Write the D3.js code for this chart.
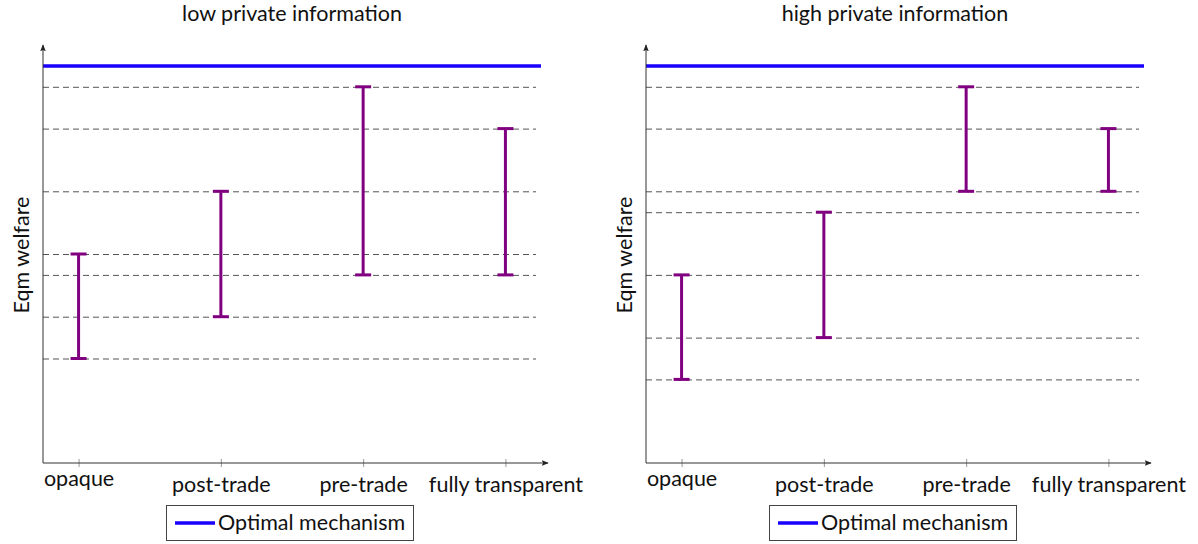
<!DOCTYPE html>
<html>
<head>
<meta charset="utf-8">
<script src="https://cdn.jsdelivr.net/npm/d3@7"></script>
<style>
  body { margin: 0; background: #fff; }
  text { font-family: Lato, "Open Sans", sans-serif; fill: #111; }
</style>
</head>
<body>
<svg width="1198" height="544"></svg>
<script>
var categories = ["opaque", "post-trade", "pre-trade", "fully transparent"];
var titles = ["low private information", "high private information"];
// error bar ranges (low, high) per category
var lowInfoLo = [25, 35, 45, 45];
var lowInfoHi = [50, 65, 90, 80];
var highInfoLo = [20, 30, 65, 65];
var highInfoHi = [45, 60, 90, 80];
var optimal = [95, 95];

var svg = d3.select("svg");

var defs = svg.append("defs");
defs.append("marker")
    .attr("id", "arrow")
    .attr("viewBox", "0 0 10 10")
    .attr("refX", 9).attr("refY", 5)
    .attr("markerWidth", 7).attr("markerHeight", 7)
    .attr("markerUnits", "userSpaceOnUse")
    .attr("orient", "auto")
    .append("path")
    .attr("d", "M0,1 L10,5 L0,9 L2,5 Z")
    .style("fill", "#222");

var y = d3.scaleLinear().domain([0, 100]).range([463, 45]);

function drawPanel(left, title, lo, hi, opt) {
    var g = svg.append("g").attr("transform", "translate(" + left + ",0)");
    var x = d3.scaleLinear().domain([-0.25, 3.25]).range([0, 498]);

    g.append("text")
        .attr("x", 249).attr("y", 21)
        .attr("text-anchor", "middle")
        .style("font-size", "21.5px")
        .text(title);

    // dashed guide lines at every bar end
    var levels = Array.from(new Set(lo.concat(hi)));
    g.selectAll(".guide")
        .data(levels)
        .enter().append("line")
        .attr("class", "guide")
        .attr("x1", 0).attr("x2", 493)
        .attr("y1", function(d) { return y(d) + 0.5; })
        .attr("y2", function(d) { return y(d) + 0.5; })
        .style("stroke", "#555")
        .style("stroke-width", 1)
        .style("stroke-dasharray", "6,4");

    // optimal mechanism
    g.append("line")
        .attr("x1", 0).attr("x2", 498)
        .attr("y1", y(opt)).attr("y2", y(opt))
        .style("stroke", "#1a00ff")
        .style("stroke-width", 3.5);

    // axes
    var xAxis = d3.axisBottom(x)
        .tickValues([0, 1, 2, 3])
        .tickFormat(function(d) { return categories[d]; })
        .tickSize(4);
    var ax = g.append("g")
        .attr("transform", "translate(0," + y(0) + ")")
        .call(xAxis);
    ax.select(".domain").remove();
    ax.selectAll(".tick line")
        .attr("y1", -4).attr("y2", 4)
        .style("stroke", "#999");
    ax.selectAll(".tick text")
        .attr("y", function(d) { return d == 0 ? 23 : 29; })
        .attr("dy", 0)
        .style("font-size", "21.5px")
        .style("font-family", "Lato, 'Open Sans', sans-serif")
        .style("fill", "#111");

    g.append("line")
        .attr("x1", 0).attr("x2", 505)
        .attr("y1", y(0)).attr("y2", y(0))
        .attr("marker-end", "url(#arrow)")
        .style("stroke", "#333");
    g.append("line")
        .attr("x1", 0).attr("x2", 0)
        .attr("y1", y(0)).attr("y2", y(100))
        .attr("marker-end", "url(#arrow)")
        .style("stroke", "#333");

    g.append("text")
        .attr("transform", "translate(-14," + (y(50) + 1) + ") rotate(-90)")
        .attr("text-anchor", "middle")
        .style("font-size", "21.5px")
        .text("Eqm welfare");

    // error bars
    var idx = [0, 1, 2, 3];
    var bars = g.selectAll(".bar").data(idx).enter().append("g").attr("class", "bar");
    bars.append("line")
        .attr("x1", function(d) { return x(d); })
        .attr("x2", function(d) { return x(d); })
        .attr("y1", function(d) { return y(lo[d]); })
        .attr("y2", function(d) { return y(hi[d]); })
        .style("stroke", "#800080")
        .style("stroke-width", 3);
    bars.selectAll(".cap")
        .data(function(d) { return [[d, lo[d]], [d, hi[d]]]; })
        .enter().append("line")
        .attr("x1", function(d) { return x(d[0]) - 8; })
        .attr("x2", function(d) { return x(d[0]) + 8; })
        .attr("y1", function(d) { return y(d[1]); })
        .attr("y2", function(d) { return y(d[1]); })
        .style("stroke", "#800080")
        .style("stroke-width", 3);

    // legend
    var lg = g.append("g").attr("transform", "translate(123,505)");
    lg.append("rect")
        .attr("x", 0.5).attr("y", 0.5)
        .attr("width", 247).attr("height", 35)
        .style("fill", "#fff")
        .style("stroke", "#444");
    lg.append("line")
        .attr("x1", 9).attr("x2", 49)
        .attr("y1", 18).attr("y2", 18)
        .style("stroke", "#1a00ff")
        .style("stroke-width", 3.5);
    lg.append("text")
        .attr("x", 52).attr("y", 25)
        .style("font-size", "21.5px")
        .text("Optimal mechanism");
}

drawPanel(43, titles[0], lowInfoLo, lowInfoHi, optimal[0]);
drawPanel(646, titles[1], highInfoLo, highInfoHi, optimal[1]);
</script>
</body>
</html>
